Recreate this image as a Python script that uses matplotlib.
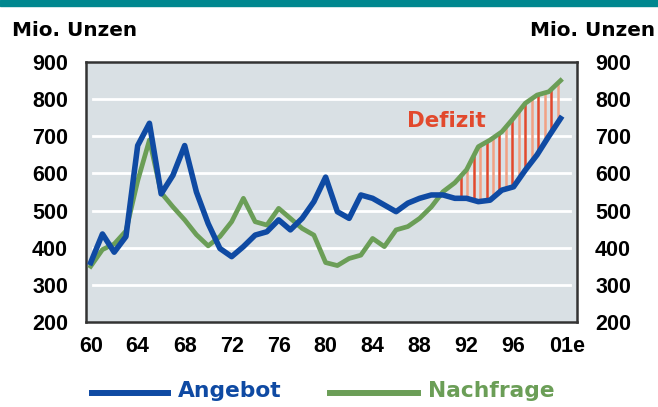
import matplotlib.pyplot as plt
import numpy as np

# Silber: Angebot und Nachfrage, Mio. Unzen
jahre = np.arange(1960, 2001)
angebot = [360, 437, 388, 430, 675, 735, 545, 595, 675, 550,
           465, 398, 376, 403, 434, 443, 475, 448, 479, 524,
           590, 497, 479, 542, 533, 515, 497, 520, 533, 542,
           542, 533, 533, 524, 528, 555, 564, 609, 650, 700,
           748]
nachfrage = [350, 395, 410, 445, 580, 690, 548, 510, 475, 435,
             405, 430, 470, 533, 470, 461, 506, 479, 452, 434,
             360, 352, 371, 380, 425, 403, 448, 457, 479, 510,
             551, 575, 610, 672, 690, 712, 749, 789, 811, 820,
             850]
xticks = [1960, 1964, 1968, 1972, 1976, 1980, 1984, 1988, 1992, 1996, 2000.6]
xlabels = ["60", "64", "68", "72", "76", "80", "84", "88", "92", "96", "01e"]
yticks = [200, 300, 400, 500, 600, 700, 800, 900]

blau = "#0f4aa3"
gruen = "#6b9e57"
rot = "#e2492d"

fig = plt.figure(figsize=(6.58, 4.07), dpi=100)
ax = fig.add_axes([0.1307, 0.2088, 0.7462, 0.6389])
ax.set_facecolor("#d9e0e4")

# teal bar at the top
fig.patches.append(plt.Rectangle((0, 0.985), 1, 0.015, transform=fig.transFigure,
                                 color="#00878f", zorder=0))

for y in yticks[1:-1]:
    ax.axhline(y, xmin=0.015, xmax=0.985, color="white", lw=2, zorder=1)

# Defizit hatching
xs = np.arange(1991.5, 2000.1, 0.55)
lo = np.interp(xs, jahre, angebot)
hi = np.interp(xs, jahre, nachfrage)
farben = [rot if i % 2 == 0 else "#f2a184" for i in range(len(xs))]
ax.vlines(xs, lo, hi, colors=farben, lw=1.8, zorder=2)

ax.plot(jahre, nachfrage, color=gruen, lw=3.4, solid_joinstyle="round", zorder=3)
ax.plot(jahre, angebot, color=blau, lw=4.0, solid_joinstyle="round", zorder=4)

ax.text(1986.9, 741, "Defizit", color=rot, fontsize=15.4, fontweight="bold",
        va="center", ha="left", zorder=5)

ax.set_xlim(1959.6, 2001.4)
ax.set_ylim(200, 900)
ax.set_xticks(xticks)
ax.set_xticklabels(xlabels)
ax.set_yticks(yticks)
ax.tick_params(length=0, labelsize=15.5, pad=10, labelright=True)
ax.tick_params(axis="y", pad=13)
for tick in ax.xaxis.get_major_ticks() + ax.yaxis.get_major_ticks():
    for lab in (tick.label1, tick.label2):
        lab.set_fontfamily("Liberation Sans")
        lab.set_fontweight("bold")
for s in ax.spines.values():
    s.set_color("#333333")
    s.set_linewidth(1.8)

fig.text(12 / 658, 1 - 31 / 407, "Mio. Unzen", fontsize=14.4, fontweight="bold",
         ha="left", va="center")
fig.text(655 / 658, 1 - 31 / 407, "Mio. Unzen", fontsize=14.4, fontweight="bold",
         ha="right", va="center")

# legend
fig.lines.append(plt.Line2D([92 / 658, 168 / 658], [1 - 393 / 407] * 2, color=blau,
                            lw=4.3, transform=fig.transFigure))
fig.text(178 / 658, 1 - 391 / 407, "Angebot", color=blau, fontsize=15.7,
         fontweight="bold", ha="left", va="center")
fig.lines.append(plt.Line2D([330 / 658, 418 / 658], [1 - 393 / 407] * 2, color=gruen,
                            lw=4.3, transform=fig.transFigure))
fig.text(428 / 658, 1 - 391 / 407, "Nachfrage", color=gruen, fontsize=15.7,
         fontweight="bold", ha="left", va="center")

fig.savefig("out.png", dpi=100)
